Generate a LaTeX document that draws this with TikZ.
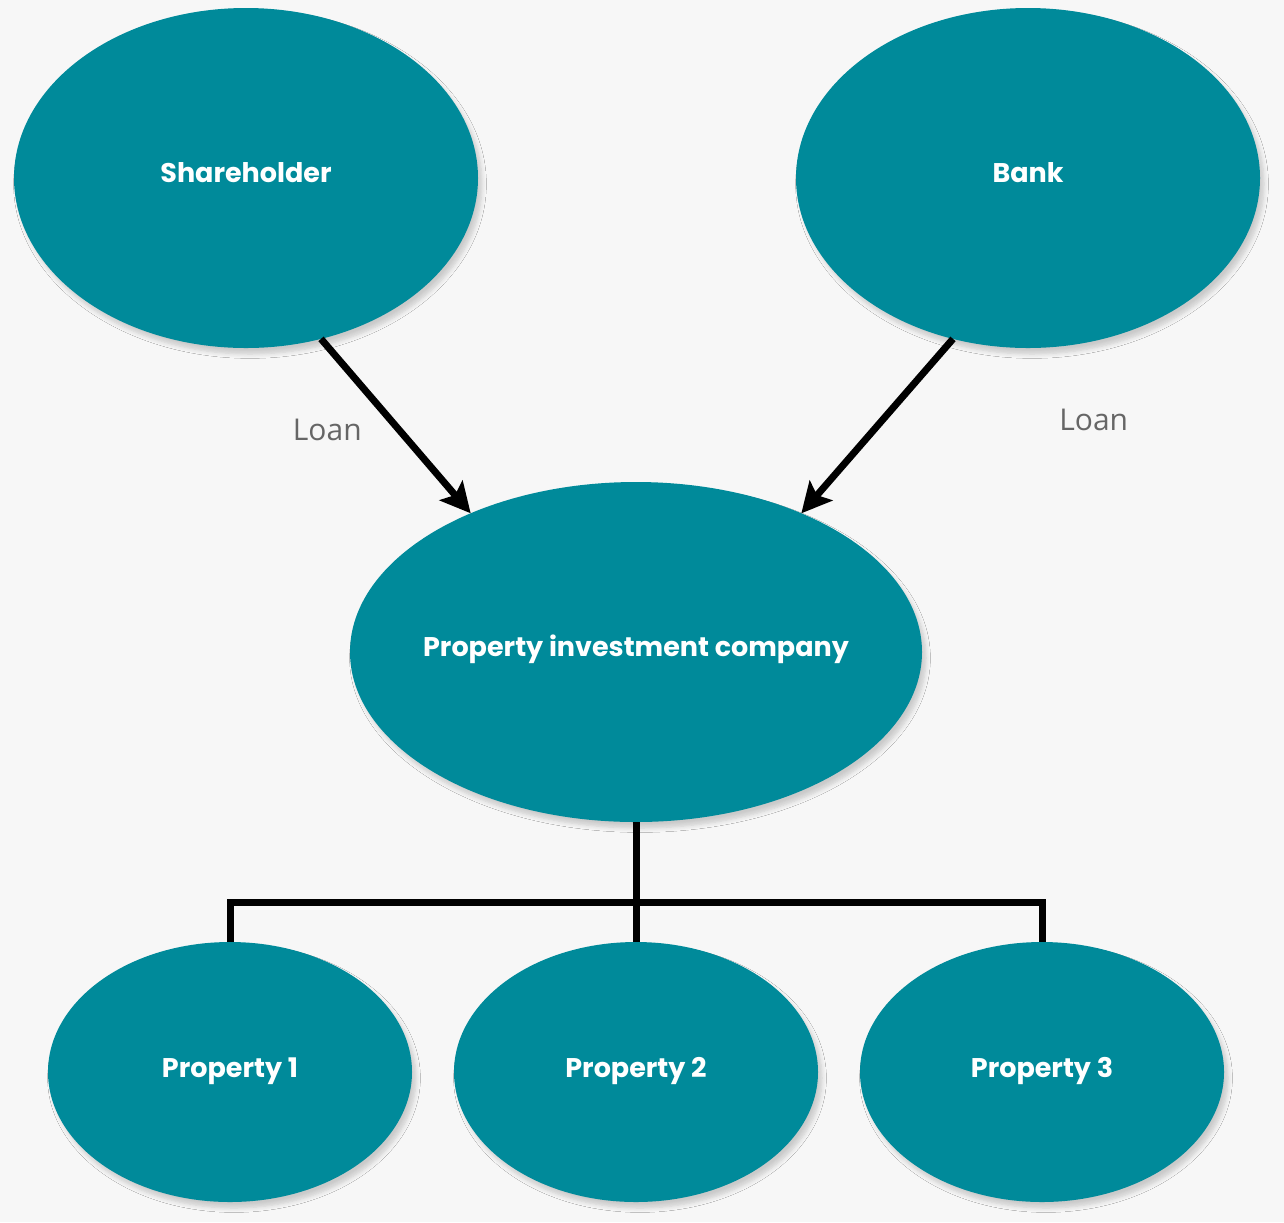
\documentclass[tikz,border=0pt]{standalone}
\usepackage{fontspec}
\setmainfont{Poppins}
\newfontfamily\loanfont{Open Sans}
\usetikzlibrary{shapes,arrows.meta,positioning,shadows.blur,backgrounds}
\definecolor{petrol}{HTML}{008A9A}
\definecolor{paper}{HTML}{F7F7F7}
\definecolor{loangrey}{HTML}{666666}

\begin{document}
\begin{tikzpicture}[on grid,>={Stealth[length=15pt,width=15pt,inset=3pt]}]

  \tikzstyle{party}=[ellipse,fill=petrol,text=white,inner sep=0pt,outer sep=0pt,
  		     font=\bfseries\fontsize{13.5}{16}\selectfont,text height=10pt,text depth=6pt,
  		     blur shadow={shadow xshift=2pt,shadow yshift=-3pt,shadow blur steps=6,shadow opacity=18}]
  \tikzstyle{big party}=[party,minimum width=232pt,minimum height=170pt]
  \tikzstyle{company}=[party,inner xsep=-40pt,minimum width=286pt,minimum height=170pt]
  \tikzstyle{property}=[party,text depth=4.5pt,minimum width=182pt,minimum height=130pt]
  \tikzstyle{loan}=[->,line width=3.5pt]
  \tikzstyle{tree}=[line width=3.5pt]
  \tikzstyle{loan label}=[text=loangrey,font=\loanfont\fontsize{15}{18}\selectfont]

  % frame
  \fill [paper] (0,0) rectangle (642pt,-611pt);

  % owners and company
  \node [company] (pic) at (318pt,-326pt) {Property investment company};
  \node [big party] (sh)   [above left=237pt and 195pt of pic]  {Shareholder};
  \node [big party] (bank) [above right=237pt and 196pt of pic] {Bank};

  % properties
  \node [property] (p2) [below=210pt of pic] {Property 2};
  \node [property] (p1) [left=203pt of p2]   {Property 1};
  \node [property] (p3) [right=203pt of p2]  {Property 3};

  \draw [loan] (sh.-65) -- node [loan label,left=12pt,yshift=-2pt] {Loan} (pic.140);
  \draw [loan] (bank.-115) -- node [loan label,right=86pt,yshift=3pt] {Loan} (pic.40);

  \draw [tree] (pic.south) -- (p2.north);
  \draw [tree] (p1.north) -- (p1.north |- 0,-451pt) -- (p3.north |- 0,-451pt) -- (p3.north);
\end{tikzpicture}
\end{document}
